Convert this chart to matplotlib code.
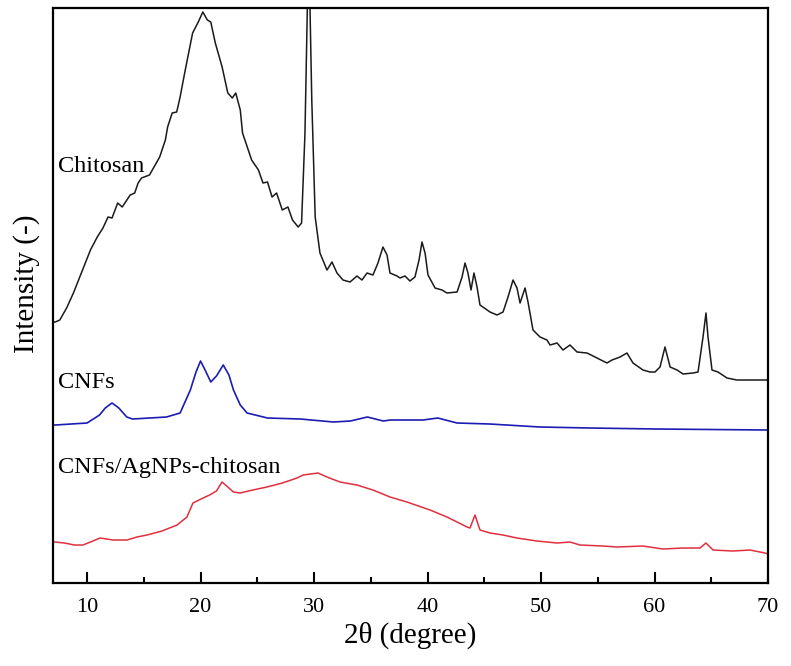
import numpy as np
import matplotlib
matplotlib.use('Agg')
import matplotlib.pyplot as plt

chitosan_x = [7.0, 7.2, 7.6, 8.2, 8.8, 9.6, 10.3, 10.9, 11.4, 11.85, 12.2, 12.7, 13.1, 13.8,
              14.2, 14.5, 14.8, 15.5, 16.0, 16.4, 16.9, 17.1, 17.5, 17.9, 18.2, 18.6, 19.3,
              19.8, 20.2, 20.6, 20.9, 21.3, 21.9, 22.4, 22.8, 23.1, 23.5, 23.7, 24.5, 25.1,
              25.5, 25.9, 26.3, 26.7, 27.2, 27.7, 28.1, 28.6, 28.9, 29.2, 29.45, 29.6, 29.8,
              30.1, 30.52, 31.14, 31.58, 32.02, 32.55, 33.17, 33.78, 34.22, 34.67, 35.19,
              35.63, 36.07, 36.43, 36.69, 37.31, 37.57, 38.01, 38.45, 38.89, 39.25, 39.51,
              39.78, 40.04, 40.66, 41.27, 41.71, 42.6, 43.04, 43.3, 43.56, 43.83, 44.09,
              44.36, 44.62, 45.5, 46.12, 46.65, 47.09, 47.53, 47.88, 48.15, 48.59, 48.85,
              49.29, 49.91, 50.52, 50.79, 51.41, 51.93, 52.55, 53.17, 54.05, 54.93, 55.81,
              56.25, 56.96, 57.57, 58.1, 58.98, 59.6, 60.04, 60.48, 60.92, 61.37, 61.98,
              62.51, 63.39, 63.83, 64.27, 64.53, 64.71, 65.06, 65.59, 66.38, 67.26, 69.03,
              69.91, 70.0]
chitosan_y = [261, 261, 263, 275, 290, 313, 333, 346, 355, 366, 365, 380, 376, 388,
              390, 400, 405, 408, 418, 426, 443, 456, 470, 471, 486, 510, 550,
              561, 571, 563, 561, 540, 516, 490, 485, 490, 473, 450, 423, 413,
              400, 401, 386, 390, 373, 376, 363, 356, 360, 450, 600, 600, 483,
              366, 330, 313, 321, 310, 303, 301, 307, 303, 310, 308,
              320, 336, 328, 310, 307, 305, 307, 302, 306, 323, 341,
              330, 308, 295, 293, 290, 291, 306, 320, 310, 293, 310,
              296, 278, 271, 268, 271, 286, 303, 295, 280, 295, 281,
              253, 246, 243, 238, 240, 233, 238, 231, 230, 225, 220,
              223, 226, 230, 220, 213, 211, 211, 216, 236, 216, 213,
              209, 210, 211, 246, 270, 246, 213, 211, 205, 203, 203,
              203, 203]

cnfs_x = [7.0, 7.2, 10.0, 11.1, 11.6, 12.2, 12.8, 13.5, 14.0, 17.0, 18.2, 19.1, 19.6, 20.0,
          20.4, 20.9, 21.4, 22.0, 22.5, 22.9, 23.5, 24.1, 25.9, 28.8, 31.7, 33.2, 34.7,
          36.1, 36.7, 39.6, 40.9, 42.6, 45.5, 49.9, 54.3, 60.2, 69.9, 70.0]
cnfs_y = [158, 158, 160, 168, 175, 180, 175, 166, 164, 166, 170, 193, 211, 222,
          213, 201, 207, 218, 208, 193, 178, 170, 165, 164, 161, 162, 166,
          162, 163, 163, 165, 160, 159, 156, 155, 154, 153, 153]

agnps_x = [7.0, 7.18, 8.0, 8.9, 9.64, 10.3, 11.14, 12.3, 13.52, 14.4, 15.28, 16.6, 17.93,
           18.8, 19.33, 20.22, 20.8, 21.4, 21.89, 22.4, 22.9, 23.48, 24.6, 25.85, 27.2,
           28.5, 29.03, 30.35, 31.14, 32.29, 33.78, 35.19, 36.69, 38.19, 40.22, 41.71,
           43.48, 43.74, 44.18, 44.62, 45.5, 46.65, 47.88, 49.64, 51.41, 52.55, 53.43,
           55.46, 56.69, 58.98, 60.74, 62.51, 64.0, 64.53, 65.15, 66.91, 68.41, 69.73, 70.0]
agnps_y = [41, 41, 40, 38, 38, 41, 45, 43, 43, 46, 48, 52, 58,
           66, 80, 85, 88, 92, 101, 96, 91, 90, 93, 96, 100,
           105, 108, 110, 106, 101, 98, 93, 86, 81, 73, 66,
           56, 55, 68, 53, 50, 48, 45, 42, 40, 41, 38,
           37, 36, 37, 34, 35, 35, 40, 33, 32, 33, 30, 29]

plt.rcParams['font.family'] = ['Liberation Serif', 'DejaVu Serif']

fig = plt.figure(figsize=(7.91, 6.66), dpi=100)
ax = fig.add_axes([0.067, 0.1246, 0.904, 0.8634])

ax.plot(chitosan_x, chitosan_y, color='#1a1a1a', lw=1.1)
ax.plot(cnfs_x, cnfs_y, color='#1c1cb4', lw=1.2)
ax.plot(agnps_x, agnps_y, color='#e03040', lw=1.1)

ax.text(7.45, 416, 'Chitosan', fontsize=17.5, va='center', ha='left')
ax.text(7.45, 201, 'CNFs', fontsize=17.5, va='center', ha='left')
ax.text(7.45, 116, 'CNFs/AgNPs-chitosan', fontsize=17.5, va='center', ha='left')

ax.set_xlim(7, 70)
ax.set_ylim(0, 575)
ax.set_xticks([10, 20, 30, 40, 50, 60, 70])
ax.set_xticks([15, 25, 35, 45, 55, 65], minor=True)
ax.set_yticks([])
ax.tick_params(axis='x', which='major', direction='in', length=8, width=1.5,
               labelsize=16, pad=11)
ax.tick_params(axis='x', which='minor', direction='in', length=4.5, width=1.5)
for s in ax.spines.values():
    s.set_linewidth(1.6)

ax.set_xlabel('2θ (degree)', fontsize=21, labelpad=3)
ax.set_ylabel('Intensity (-)', fontsize=21)
ax.yaxis.set_label_coords(-0.018, 0.52)

fig.savefig('out.png', dpi=100)
